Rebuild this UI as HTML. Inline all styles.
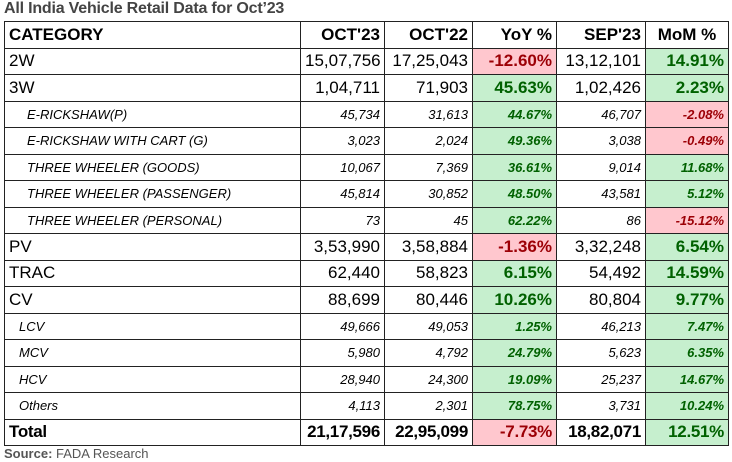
<!DOCTYPE html>
<html><head><style>
body{margin:0;background:#fff;width:732px;height:462px;overflow:hidden;font-family:"Liberation Sans",Arial,sans-serif;color:#000}
.t{position:absolute;left:4px;top:0px;font-size:16px;font-weight:bold;color:#444;letter-spacing:-0.2px}
table{position:absolute;left:4px;top:21px;width:724px;border-collapse:collapse;table-layout:fixed}
td{border:1.5px solid #222;height:25.5px;padding:0 4px;white-space:nowrap;font-size:17px;text-align:right;overflow:hidden}
td:first-child{text-align:left}
tr.h td{font-weight:bold;font-size:17px}
tr.s td{font-style:italic;font-size:13px}
tr.s td:first-child{padding-left:22px}
tr.tot td{font-weight:bold;font-size:17px;letter-spacing:-0.3px}
.g{background:#c6efce;color:#006100;font-weight:bold}
.r{background:#ffc7ce;color:#9c0006;font-weight:bold}
.src{position:absolute;left:4px;top:446px;font-size:13px;color:#555}
</style></head><body>
<div class="t">All India Vehicle Retail Data for Oct’23</div>
<table>
<colgroup><col style="width:296px"><col style="width:84px"><col style="width:88px"><col style="width:84px"><col style="width:89px"><col style="width:83px"></colgroup>
<tr class="h"><td>CATEGORY</td><td>OCT'23</td><td>OCT'22</td><td>YoY %</td><td>SEP'23</td><td style="text-align:center">MoM %</td></tr>
<tr><td>2W</td><td>15,07,756</td><td>17,25,043</td><td class="r">-12.60%</td><td>13,12,101</td><td class="g">14.91%</td></tr>
<tr><td>3W</td><td>1,04,711</td><td>71,903</td><td class="g">45.63%</td><td>1,02,426</td><td class="g">2.23%</td></tr>
<tr class="s"><td>E-RICKSHAW(P)</td><td>45,734</td><td>31,613</td><td class="g">44.67%</td><td>46,707</td><td class="r">-2.08%</td></tr>
<tr class="s"><td>E-RICKSHAW WITH CART (G)</td><td>3,023</td><td>2,024</td><td class="g">49.36%</td><td>3,038</td><td class="r">-0.49%</td></tr>
<tr class="s"><td>THREE WHEELER (GOODS)</td><td>10,067</td><td>7,369</td><td class="g">36.61%</td><td>9,014</td><td class="g">11.68%</td></tr>
<tr class="s"><td>THREE WHEELER (PASSENGER)</td><td>45,814</td><td>30,852</td><td class="g">48.50%</td><td>43,581</td><td class="g">5.12%</td></tr>
<tr class="s"><td>THREE WHEELER (PERSONAL)</td><td>73</td><td>45</td><td class="g">62.22%</td><td>86</td><td class="r">-15.12%</td></tr>
<tr><td>PV</td><td>3,53,990</td><td>3,58,884</td><td class="r">-1.36%</td><td>3,32,248</td><td class="g">6.54%</td></tr>
<tr><td>TRAC</td><td>62,440</td><td>58,823</td><td class="g">6.15%</td><td>54,492</td><td class="g">14.59%</td></tr>
<tr><td>CV</td><td>88,699</td><td>80,446</td><td class="g">10.26%</td><td>80,804</td><td class="g">9.77%</td></tr>
<tr class="s"><td style="padding-left:14px">LCV</td><td>49,666</td><td>49,053</td><td class="g">1.25%</td><td>46,213</td><td class="g">7.47%</td></tr>
<tr class="s"><td style="padding-left:14px">MCV</td><td>5,980</td><td>4,792</td><td class="g">24.79%</td><td>5,623</td><td class="g">6.35%</td></tr>
<tr class="s"><td style="padding-left:14px">HCV</td><td>28,940</td><td>24,300</td><td class="g">19.09%</td><td>25,237</td><td class="g">14.67%</td></tr>
<tr class="s"><td style="padding-left:14px">Others</td><td>4,113</td><td>2,301</td><td class="g">78.75%</td><td>3,731</td><td class="g">10.24%</td></tr>
<tr class="tot"><td>Total</td><td>21,17,596</td><td>22,95,099</td><td class="r">-7.73%</td><td>18,82,071</td><td class="g">12.51%</td></tr>
</table>
<div class="src"><b>Source:</b> FADA Research</div>
</body></html>
